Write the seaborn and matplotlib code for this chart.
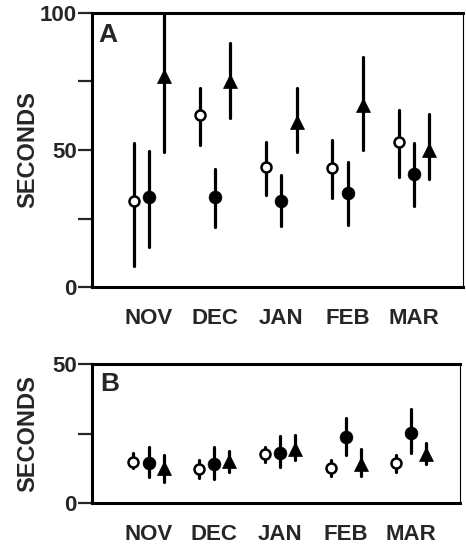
import numpy as np
import pandas as pd
import seaborn as sns
import matplotlib.pyplot as plt

# ---------------- data ----------------
months = ["NOV", "DEC", "JAN", "FEB", "MAR"]
series = ["open", "filled", "triangle"]

# Panel A
a_open_mean = [31.4, 62.8, 43.9, 43.3, 52.8]
a_open_lo = [7.8, 51.8, 33.6, 32.4, 40.0]
a_open_hi = [52.7, 72.7, 53.0, 53.6, 64.6]
a_filled_mean = [32.7, 32.7, 31.5, 34.4, 41.2]
a_filled_lo = [14.7, 22.0, 22.4, 22.6, 29.7]
a_filled_hi = [49.7, 43.0, 40.9, 45.5, 52.7]
a_tri_mean = [77.0, 75.0, 60.3, 66.4, 50.0]
a_tri_lo = [49.4, 61.8, 49.2, 50.0, 39.4]
a_tri_hi = [100.0, 89.0, 72.5, 83.8, 63.1]

# Panel B
b_open_mean = [14.9, 12.1, 17.6, 12.7, 14.3]
b_open_lo = [12.5, 9.1, 14.9, 9.8, 11.0]
b_open_hi = [17.9, 15.5, 20.0, 15.5, 17.3]
b_filled_mean = [14.5, 13.9, 18.1, 23.6, 25.3]
b_filled_lo = [9.5, 8.5, 12.8, 17.3, 18.1]
b_filled_hi = [20.3, 20.0, 24.1, 30.7, 33.8]
b_tri_mean = [12.5, 15.2, 19.3, 14.0, 17.5]
b_tri_lo = [7.7, 11.3, 15.5, 9.7, 14.0]
b_tri_hi = [17.3, 18.8, 24.5, 19.3, 21.5]

a_yticks = [0, 25, 50, 75, 100]
a_yticklabels = ["0", "", "50", "", "100"]
b_yticks = [0, 25, 50]
b_yticklabels = ["0", "", "50"]


def long_frame(means, los, his):
    rows = []
    for s, m, lo, hi in zip(series, means, los, his):
        for i, mon in enumerate(months):
            for v in (lo[i], m[i], hi[i]):
                rows.append({"month": mon, "series": s, "sec": v})
    return pd.DataFrame(rows)


df_a = long_frame([a_open_mean, a_filled_mean, a_tri_mean],
                  [a_open_lo, a_filled_lo, a_tri_lo],
                  [a_open_hi, a_filled_hi, a_tri_hi])
df_b = long_frame([b_open_mean, b_filled_mean, b_tri_mean],
                  [b_open_lo, b_filled_lo, b_tri_lo],
                  [b_open_hi, b_filled_hi, b_tri_hi])

# ---------------- style ----------------
sns.set_style("ticks")
plt.rcParams["font.family"] = ["Liberation Sans", "DejaVu Sans"]
plt.rcParams["font.weight"] = "bold"

fig = plt.figure(figsize=(4.66, 5.44), dpi=100)
ax_a = fig.add_axes([92 / 466, 1 - 287 / 544, 371 / 466, 274 / 544])
ax_b = fig.add_axes([92 / 466, 1 - 503 / 544, 368 / 466, 139 / 544])

palette = {s: "black" for s in series}
msizes = {"open": 7.2, "filled": 9.2, "triangle": 9.6}


def draw(ax, df, yticks, yticklabels, ylim, letter, letter_xy):
    sns.pointplot(data=df, x="month", y="sec", hue="series",
                  order=months, hue_order=series,
                  estimator="median", errorbar=("pi", 100),
                  dodge=0.46, markers=["o", "o", "^"], linestyle="none",
                  palette=palette, markersize=8,
                  err_kws={"linewidth": 2.3, "color": "black"},
                  legend=False, ax=ax)
    mlines = [ln for ln in ax.lines if len(ln.get_xdata()) == len(months)]
    for s, ln in zip(series, mlines):
        ln.set_zorder(4)
        ln.set_markersize(msizes[s])
        ln.set_markeredgecolor("black")
        if s == "open":
            ln.set_markerfacecolor("white")
            ln.set_markeredgewidth(1.8)
        else:
            ln.set_markerfacecolor("black")
            ln.set_markeredgewidth(0.5)
    ax.set_xlim(-0.86, 4.74)
    ax.set_ylim(*ylim)
    ax.set_yticks(yticks)
    ax.set_yticklabels(yticklabels, fontsize=16, fontweight="bold")
    ax.set_xticks(range(len(months)))
    ax.set_xticklabels(months, fontsize=16, fontweight="bold")
    ax.tick_params(axis="x", length=0, pad=15)
    ax.tick_params(axis="y", length=10, width=1.6, pad=1, direction="out")
    ax.set_xlabel("")
    ax.set_ylabel("SECONDS", fontsize=17, fontweight="bold")
    for side in ["left", "bottom", "top"]:
        ax.spines[side].set_linewidth(2.2)
    ax.spines["right"].set_linewidth(0.8)
    for sp in ax.spines.values():
        sp.set_visible(True)
        sp.set_color("black")
    ax.text(letter_xy[0], letter_xy[1], letter, transform=ax.transAxes,
            fontsize=19, fontweight="bold", ha="left", va="top")


draw(ax_a, df_a, a_yticks, a_yticklabels, (0, 100), "A", (0.016, 0.965))
draw(ax_b, df_b, b_yticks, b_yticklabels, (0, 50), "B", (0.022, 0.94))

ax_a.yaxis.set_label_coords((39 - 92) / 371, 0.5)
ax_b.yaxis.set_label_coords((39 - 92) / 368, 0.5)

fig.savefig("out.png", dpi=100)
